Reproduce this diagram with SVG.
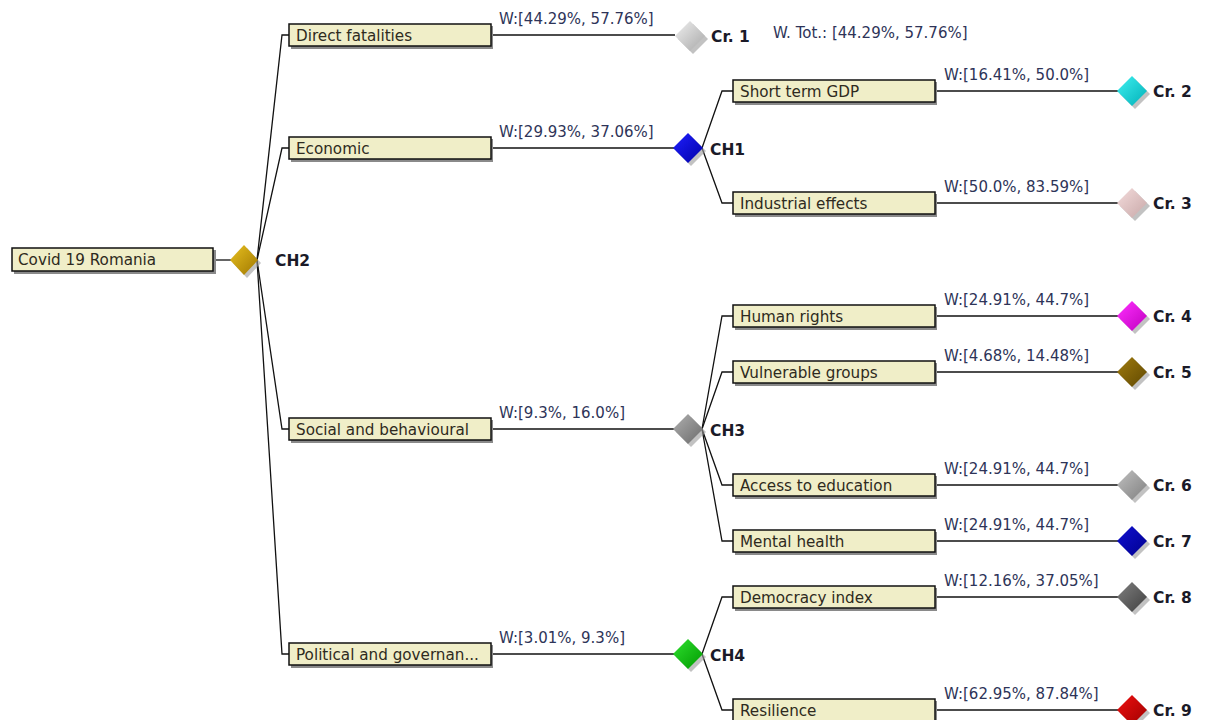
<svg xmlns="http://www.w3.org/2000/svg" width="1205" height="720" viewBox="0 0 1205 720">
<defs>
<style>
.box{fill:#f0eec8;stroke:#111;stroke-width:1.5}
.sh{fill:#8a8a8a}
.bt{font-family:"DejaVu Sans",Verdana,sans-serif;font-size:15.2px;fill:#2e2a20}
.wt{font-family:"DejaVu Sans",Verdana,sans-serif;font-size:15px;fill:#2e3458}
.lb{font-family:"DejaVu Sans",Verdana,sans-serif;font-size:15.5px;font-weight:bold;fill:#1a1a28}
.ln{fill:none;stroke:#111;stroke-width:1.3}
.ds{fill:#9a9a9a;opacity:0.6}
</style>
<linearGradient id="gGold" x1="0" y1="0" x2="1" y2="1"><stop offset="0" stop-color="#e8c020"/><stop offset="1" stop-color="#a07800"/></linearGradient>
<linearGradient id="gLG" x1="0" y1="0" x2="1" y2="1"><stop offset="0" stop-color="#f0f0f0"/><stop offset="1" stop-color="#a8a8a8"/></linearGradient>
<linearGradient id="gBlue" x1="0" y1="0" x2="1" y2="1"><stop offset="0" stop-color="#2020ff"/><stop offset="1" stop-color="#0000a8"/></linearGradient>
<linearGradient id="gCyan" x1="0" y1="0" x2="1" y2="1"><stop offset="0" stop-color="#40f0f0"/><stop offset="1" stop-color="#00b0b8"/></linearGradient>
<linearGradient id="gPink" x1="0" y1="0" x2="1" y2="1"><stop offset="0" stop-color="#f4dcdc"/><stop offset="1" stop-color="#c8a8a8"/></linearGradient>
<linearGradient id="gGrey" x1="0" y1="0" x2="1" y2="1"><stop offset="0" stop-color="#b0b0b0"/><stop offset="1" stop-color="#6a6a6a"/></linearGradient>
<linearGradient id="gMag" x1="0" y1="0" x2="1" y2="1"><stop offset="0" stop-color="#ff30ff"/><stop offset="1" stop-color="#c000c0"/></linearGradient>
<linearGradient id="gBrown" x1="0" y1="0" x2="1" y2="1"><stop offset="0" stop-color="#a07c10"/><stop offset="1" stop-color="#604800"/></linearGradient>
<linearGradient id="gGrey2" x1="0" y1="0" x2="1" y2="1"><stop offset="0" stop-color="#c0c0c0"/><stop offset="1" stop-color="#808080"/></linearGradient>
<linearGradient id="gNavy" x1="0" y1="0" x2="1" y2="1"><stop offset="0" stop-color="#1010d0"/><stop offset="1" stop-color="#000090"/></linearGradient>
<linearGradient id="gGreen" x1="0" y1="0" x2="1" y2="1"><stop offset="0" stop-color="#30e030"/><stop offset="1" stop-color="#009a00"/></linearGradient>
<linearGradient id="gDark" x1="0" y1="0" x2="1" y2="1"><stop offset="0" stop-color="#808080"/><stop offset="1" stop-color="#404040"/></linearGradient>
<linearGradient id="gRed" x1="0" y1="0" x2="1" y2="1"><stop offset="0" stop-color="#ee1010"/><stop offset="1" stop-color="#a00000"/></linearGradient>
</defs>
<rect width="1205" height="720" fill="#ffffff"/>

<g id="connectors">
<line class="ln" x1="213" y1="260" x2="231" y2="260"/>
<polyline class="ln" points="257,260 282,35 289,35"/>
<polyline class="ln" points="257,260 282,148 289,148"/>
<polyline class="ln" points="257,260 282,429 289,429"/>
<polyline class="ln" points="257,260 282,654 289,654"/>
<line class="ln" x1="491" y1="35" x2="675" y2="35"/>
<line class="ln" x1="491" y1="148" x2="674" y2="148"/>
<line class="ln" x1="491" y1="429" x2="674" y2="429"/>
<line class="ln" x1="491" y1="654" x2="674" y2="654"/>
<polyline class="ln" points="702,148 722,91 733,91"/>
<polyline class="ln" points="702,148 722,203 733,203"/>
<polyline class="ln" points="702,429 722,316 733,316"/>
<polyline class="ln" points="702,429 722,372 733,372"/>
<polyline class="ln" points="702,429 722,485 733,485"/>
<polyline class="ln" points="702,429 722,541 733,541"/>
<polyline class="ln" points="702,654 722,597 733,597"/>
<polyline class="ln" points="702,654 722,710 733,710"/>
<line class="ln" x1="935" y1="91" x2="1118" y2="91"/>
<line class="ln" x1="935" y1="203" x2="1118" y2="203"/>
<line class="ln" x1="935" y1="316" x2="1118" y2="316"/>
<line class="ln" x1="935" y1="372" x2="1118" y2="372"/>
<line class="ln" x1="935" y1="485" x2="1118" y2="485"/>
<line class="ln" x1="935" y1="541" x2="1118" y2="541"/>
<line class="ln" x1="935" y1="597" x2="1118" y2="597"/>
<line class="ln" x1="935" y1="710" x2="1118" y2="710"/>
<text class="wt" x="499" y="24">W:[44.29%, 57.76%]</text>
<text class="wt" x="499" y="137">W:[29.93%, 37.06%]</text>
<text class="wt" x="499" y="418">W:[9.3%, 16.0%]</text>
<text class="wt" x="499" y="643">W:[3.01%, 9.3%]</text>
<text class="wt" x="944" y="80">W:[16.41%, 50.0%]</text>
<text class="wt" x="944" y="192">W:[50.0%, 83.59%]</text>
<text class="wt" x="944" y="305">W:[24.91%, 44.7%]</text>
<text class="wt" x="944" y="361">W:[4.68%, 14.48%]</text>
<text class="wt" x="944" y="474">W:[24.91%, 44.7%]</text>
<text class="wt" x="944" y="530">W:[24.91%, 44.7%]</text>
<text class="wt" x="944" y="586">W:[12.16%, 37.05%]</text>
<text class="wt" x="944" y="699">W:[62.95%, 87.84%]</text>
</g>

<g id="root">
<rect class="sh" x="14" y="250" width="202" height="24"/>
<rect class="box" x="12" y="248" width="201" height="23"/>
<text class="bt" x="18" y="265">Covid 19 Romania</text>
</g>
<g id="CH2">
<polygon class="ds" points="247,248 261,263 247,278 233,263"/>
<polygon points="244,245 258,260 244,275 230,260" fill="url(#gGold)"/>
<text class="lb" x="275" y="266">CH2</text>
</g>

<g id="n-direct">
<rect class="sh" x="291" y="26" width="202" height="23"/>
<rect class="box" x="289" y="24" width="202" height="22"/>
<text class="bt" x="296" y="40.5">Direct fatalities</text>
</g>
<g id="n-economic">
<rect class="sh" x="291" y="139" width="202" height="23"/>
<rect class="box" x="289" y="137" width="202" height="22"/>
<text class="bt" x="296" y="153.5">Economic</text>
</g>
<g id="n-social">
<rect class="sh" x="291" y="420" width="202" height="23"/>
<rect class="box" x="289" y="418" width="202" height="22"/>
<text class="bt" x="296" y="434.5">Social and behavioural</text>
</g>
<g id="n-political">
<rect class="sh" x="291" y="645" width="202" height="23"/>
<rect class="box" x="289" y="643" width="202" height="22"/>
<text class="bt" x="296" y="659.5">Political and governan...</text>
</g>

<g id="Cr1">
<polygon class="ds" points="693,24 708,39 693,54 678,39"/>
<polygon points="690,21 705,36 690,51 675,36" fill="url(#gLG)"/>
<text class="lb" x="711" y="42">Cr. 1</text>
<text class="wt" x="773" y="38">W. Tot.: [44.29%, 57.76%]</text>
</g>
<g id="CH1">
<polygon class="ds" points="691,136 706,151 691,166 676,151"/>
<polygon points="688,133 703,148 688,163 673,148" fill="url(#gBlue)"/>
<text class="lb" x="710" y="155">CH1</text>
</g>
<g id="CH3">
<polygon class="ds" points="691,417 706,432 691,447 676,432"/>
<polygon points="688,414 703,429 688,444 673,429" fill="url(#gGrey)"/>
<text class="lb" x="710" y="436">CH3</text>
</g>
<g id="CH4">
<polygon class="ds" points="691,642 706,657 691,672 676,657"/>
<polygon points="688,639 703,654 688,669 673,654" fill="url(#gGreen)"/>
<text class="lb" x="710" y="661">CH4</text>
</g>

<g id="n-gdp">
<rect class="sh" x="735" y="82" width="202" height="23"/>
<rect class="box" x="733" y="80" width="202" height="22"/>
<text class="bt" x="740" y="96.5">Short term GDP</text>
</g>
<g id="n-industrial">
<rect class="sh" x="735" y="194" width="202" height="23"/>
<rect class="box" x="733" y="192" width="202" height="22"/>
<text class="bt" x="740" y="208.5">Industrial effects</text>
</g>
<g id="n-human">
<rect class="sh" x="735" y="307" width="202" height="23"/>
<rect class="box" x="733" y="305" width="202" height="22"/>
<text class="bt" x="740" y="321.5">Human rights</text>
</g>
<g id="n-vulnerable">
<rect class="sh" x="735" y="363" width="202" height="23"/>
<rect class="box" x="733" y="361" width="202" height="22"/>
<text class="bt" x="740" y="377.5">Vulnerable groups</text>
</g>
<g id="n-education">
<rect class="sh" x="735" y="476" width="202" height="23"/>
<rect class="box" x="733" y="474" width="202" height="22"/>
<text class="bt" x="740" y="490.5">Access to education</text>
</g>
<g id="n-mental">
<rect class="sh" x="735" y="532" width="202" height="23"/>
<rect class="box" x="733" y="530" width="202" height="22"/>
<text class="bt" x="740" y="546.5">Mental health</text>
</g>
<g id="n-democracy">
<rect class="sh" x="735" y="588" width="202" height="23"/>
<rect class="box" x="733" y="586" width="202" height="22"/>
<text class="bt" x="740" y="602.5">Democracy index</text>
</g>
<g id="n-resilience">
<rect class="sh" x="735" y="701" width="202" height="23"/>
<rect class="box" x="733" y="699" width="202" height="22"/>
<text class="bt" x="740" y="715.5">Resilience</text>
</g>

<g id="Cr2">
<polygon class="ds" points="1135,79 1150,94 1135,109 1120,94"/>
<polygon points="1132,76 1147,91 1132,106 1117,91" fill="url(#gCyan)"/>
<text class="lb" x="1153" y="97">Cr. 2</text>
</g>
<g id="Cr3">
<polygon class="ds" points="1135,191 1150,206 1135,221 1120,206"/>
<polygon points="1132,188 1147,203 1132,218 1117,203" fill="url(#gPink)"/>
<text class="lb" x="1153" y="209">Cr. 3</text>
</g>
<g id="Cr4">
<polygon class="ds" points="1135,304 1150,319 1135,334 1120,319"/>
<polygon points="1132,301 1147,316 1132,331 1117,316" fill="url(#gMag)"/>
<text class="lb" x="1153" y="322">Cr. 4</text>
</g>
<g id="Cr5">
<polygon class="ds" points="1135,360 1150,375 1135,390 1120,375"/>
<polygon points="1132,357 1147,372 1132,387 1117,372" fill="url(#gBrown)"/>
<text class="lb" x="1153" y="378">Cr. 5</text>
</g>
<g id="Cr6">
<polygon class="ds" points="1135,473 1150,488 1135,503 1120,488"/>
<polygon points="1132,470 1147,485 1132,500 1117,485" fill="url(#gGrey2)"/>
<text class="lb" x="1153" y="491">Cr. 6</text>
</g>
<g id="Cr7">
<polygon class="ds" points="1135,529 1150,544 1135,559 1120,544"/>
<polygon points="1132,526 1147,541 1132,556 1117,541" fill="url(#gNavy)"/>
<text class="lb" x="1153" y="547">Cr. 7</text>
</g>
<g id="Cr8">
<polygon class="ds" points="1135,585 1150,600 1135,615 1120,600"/>
<polygon points="1132,582 1147,597 1132,612 1117,597" fill="url(#gDark)"/>
<text class="lb" x="1153" y="603">Cr. 8</text>
</g>
<g id="Cr9">
<polygon class="ds" points="1135,698 1150,713 1135,728 1120,713"/>
<polygon points="1132,695 1147,710 1132,725 1117,710" fill="url(#gRed)"/>
<text class="lb" x="1153" y="716">Cr. 9</text>
</g>
</svg>
